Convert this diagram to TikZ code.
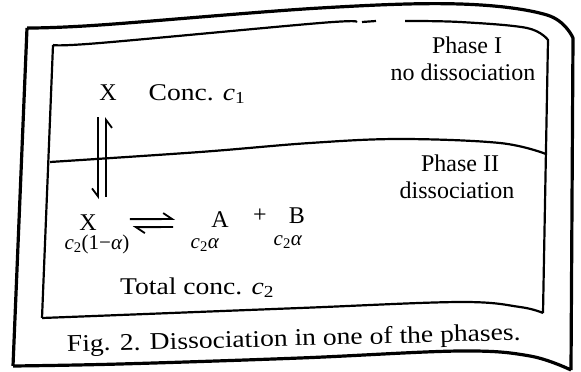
\documentclass[tikz,border=0pt]{standalone}
\usepackage{fontspec}
\setmainfont{Liberation Serif}
\newfontfamily\widefont[FakeStretch=1.15]{Liberation Serif}
\usetikzlibrary{arrows.meta}
\begin{document}
\begin{tikzpicture}[x=1pt,y=1pt,
  lbl/.style={inner sep=0pt,anchor=base,font=\fontsize{24}{28}\selectfont},
  slbl/.style={inner sep=0pt,anchor=base,font=\fontsize{21}{24}\selectfont},
  wlbl/.style={inner sep=0pt,anchor=base,font=\fontsize{24}{28}\selectfont\widefont},
  frame/.style={line width=3.2pt,line join=round},
  box/.style={line width=2.2pt,line join=round},
  harp/.style={line width=1.8pt},
  vtip/.style={-{Straight Barb[right,length=8pt,width=12pt]}},
  htip/.style={-{Straight Barb[left,length=9pt,width=12pt]}}]
\useasboundingbox (0,0) rectangle (581,-372);
% outer frame
\draw[frame] (13,-366) -- (27,-28)
  plot[smooth,tension=0.6] coordinates {(27,-28) (100,-25) (320,-8) (460,-4) (547,-15) (573,-38)}
  -- (571,-370)
  plot[smooth,tension=0.6] coordinates {(571,-370) (530,-356) (460,-351) (300,-358) (120,-364) (13,-366)};
% inner box
\draw[box] (42,-318) -- (53,-45)
  plot[smooth,tension=0.6] coordinates {(53,-45) (100,-43) (320,-23) (356,-22)};
\draw[box] (362,-22) -- (376,-21);
\draw[box] plot[smooth,tension=0.6] coordinates {(405,-21) (460,-22) (527,-28) (548,-40)}
  -- (543,-313)
  plot[smooth,tension=0.6] coordinates {(543,-313) (520,-307) (460,-302) (300,-308) (120,-315) (42,-318)};
% phase boundary
\draw[box] plot[smooth,tension=0.6] coordinates {(50,-162) (200,-152) (310,-143) (400,-139) (500,-143) (546,-154)};
% labels
\node[lbl] (xtop) at (108,-100) {X};
\node[wlbl] (conc1) at (197,-100) {Conc. \textit{c}\textsubscript{1}};
\node[lbl] (ph1) at (467,-53) {Phase I};
\node[lbl] (nodis) at (463,-80) {no dissociation};
\node[lbl] (ph2) at (460,-171) {Phase II};
\node[lbl] (dis) at (457,-198) {dissociation};
\node[lbl] (xbot) at (88,-230) {X};
\node[lbl] (a) at (220,-227) {A};
\node[lbl] (plus) at (260,-222) {+};
\node[lbl] (b) at (297,-223) {B};
\node[slbl] (cx) at (97,-249) {\textit{c}\textsubscript{2}(1−\textit{α})};
\node[slbl] (ca) at (205,-248) {\textit{c}\textsubscript{2}\textit{α}};
\node[slbl] (cb) at (288,-245) {\textit{c}\textsubscript{2}\textit{α}};
\node[wlbl] (total) at (197,-294) {Total conc. \textit{c}\textsubscript{2}};
\node[wlbl,rotate=1.5] (cap) at (294,-346) {Fig. 2. Dissociation in one of the phases.};
% vertical harpoons between phases
\draw[harp,vtip] ([xshift=-10pt,yshift=-17pt]xtop.south) -- ([xshift=10pt,yshift=15pt]xbot.north);
\draw[harp,vtip] ([xshift=18pt,yshift=17pt]xbot.north) -- ([xshift=-2pt,yshift=-17pt]xtop.south);
% equilibrium harpoons
\draw[harp,htip] ([xshift=33pt,yshift=3pt]xbot.east) -- ([xshift=-36pt,yshift=0pt]a.west);
\draw[harp,htip] ([xshift=-38pt,yshift=-8pt]a.west) -- ([xshift=36pt,yshift=-5pt]xbot.east);
\end{tikzpicture}
\end{document}
